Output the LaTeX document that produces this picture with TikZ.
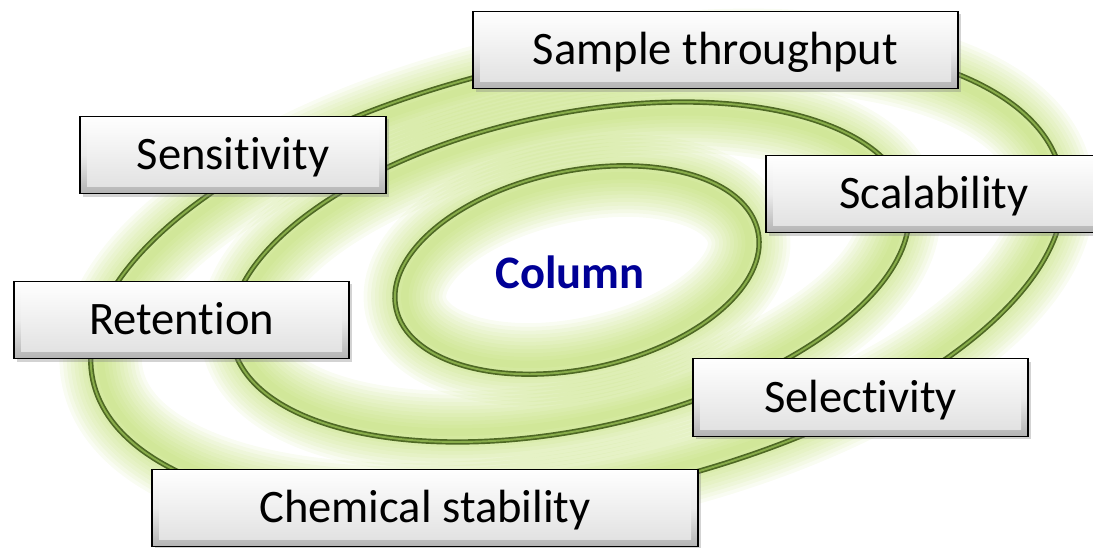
\documentclass[tikz,border=0pt]{standalone}
\usepackage{fontspec}
\setmainfont{Carlito}[Ligatures=NoCommon]
\usetikzlibrary{calc, shadows}

\definecolor{ringdark}{RGB}{78,104,36}
\definecolor{ringlight}{RGB}{136,172,74}
\definecolor{glowgreen}{RGB}{172,212,70}
\definecolor{colblue}{RGB}{0,0,150}

\begin{document}
\begin{tikzpicture}[
        ring/.style={draw=ringdark, line width=3pt},
        ringhi/.style={draw=ringlight, line width=1.1pt},
        prop/.style={rectangle, draw=black, line width=.8pt, minimum height=1.55cm,
            top color=white, bottom color=gray!60, middle color=gray!15,
            font=\fontsize{26.5}{30}\selectfont, text height=20pt, text depth=3pt,
            drop shadow={opacity=.35, shadow xshift=.05, shadow yshift=-.06},
            path picture={\shade [top color=white, bottom color=gray!25]
                ($(path picture bounding box.south west)+(.14,.14)$) rectangle
                ($(path picture bounding box.north east)-(.14,.14)$);}},
        ]
    \useasboundingbox (0, 0) rectangle (21.86, 10.94);

    % soft glow, a little inside each ring
    \foreach \cx/\cy/\a/\b in {11.54/5.54/3.7/1.98, 11.4/5.5/6.9/3.15, 11.54/5.4/9.9/4.36} {
        \foreach \w in {0.15,0.3,...,1.8}
            \draw [glowgreen, line width=\w cm, draw opacity=.07, rotate around={12:(\cx, \cy)}]
                (\cx, \cy) ellipse [x radius=\a-.2, y radius=\b-.2];
    }
    \foreach \cx/\cy/\a/\b in {11.54/5.54/3.7/1.98, 11.4/5.5/6.9/3.15, 11.54/5.4/9.9/4.36} {
        \draw [ring, rotate around={12:(\cx, \cy)}] (\cx, \cy) ellipse [x radius=\a, y radius=\b];
        \draw [ringhi, rotate around={12:(\cx, \cy)}] (\cx, \cy) ellipse [x radius=\a, y radius=\b];
    }

    \node (Col) at (11.4, 5.5) [font=\fontsize{26.5}{30}\selectfont\bfseries, text=colblue] {Column};

    \node (Thru) at (14.31, 9.94) [prop, minimum width=9.7cm] {Sample throughput};
    \node (Sens) at (4.66, 7.84) [prop, minimum width=6.12cm] {Sensitivity};
    \node (Scal) at (18.68, 7.06) [prop, minimum width=6.72cm] {Scalability};
    \node (Ret) at (3.63, 4.54) [prop, minimum width=6.7cm] {Retention};
    \node (Sel) at (17.21, 2.99) [prop, minimum width=6.7cm] {Selectivity};
    \node (Chem) at (8.5, 0.78) [prop, minimum width=10.92cm] {Chemical stability};
\end{tikzpicture}
\end{document}
